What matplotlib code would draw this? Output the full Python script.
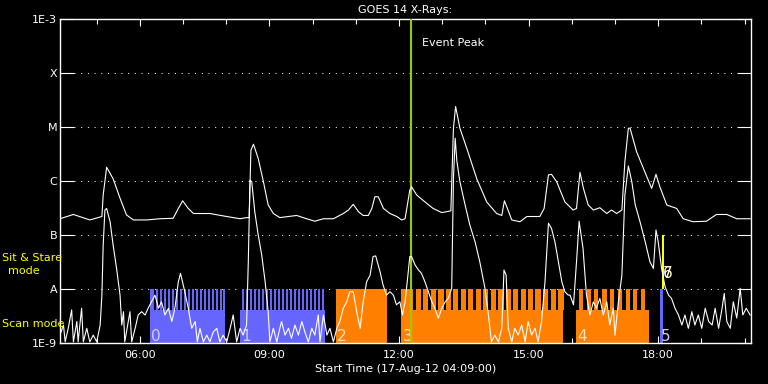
import matplotlib
matplotlib.use('Agg')
import matplotlib.pyplot as plt
from matplotlib.ticker import FixedLocator, NullLocator

# GOES long channel (1-8 A), time in hours of 17-Aug-12, flux in W/m^2
long_t = [4.15, 4.46, 4.84, 5.12, 5.15, 5.23, 5.38, 5.54, 5.69, 5.85,
          6.16, 6.46, 6.77, 6.89, 6.99, 7.12, 7.24, 7.62, 8.01, 8.32,
          8.47, 8.53, 8.57, 8.63, 8.74, 8.86, 8.97, 9.09, 9.24, 9.63,
          9.86, 10.05, 10.25, 10.48, 10.71, 10.83, 10.94, 11.06, 11.17, 11.29,
          11.37, 11.44, 11.52, 11.64, 11.79, 11.95, 12.06, 12.14, 12.18, 12.25,
          12.29, 12.41, 12.60, 12.79, 12.99, 13.20, 13.26, 13.31, 13.41, 13.57,
          13.80, 14.03, 14.26, 14.38, 14.44, 14.51, 14.61, 14.80, 14.96, 15.26,
          15.36, 15.46, 15.53, 15.65, 15.84, 16.03, 16.11, 16.19, 16.27, 16.38,
          16.50, 16.65, 16.81, 16.92, 17.04, 17.16, 17.23, 17.31, 17.35, 17.50,
          17.66, 17.85, 17.95, 18.04, 18.20, 18.43, 18.58, 18.81, 19.12, 19.35,
          19.59, 19.82, 20.13]
long_flux = [2.0e-7, 2.4e-7, 1.9e-7, 2.2e-7, 5.5e-7, 1.8e-6, 1.1e-6, 4.8e-7, 2.35e-7, 1.9e-7,
             1.9e-7, 2.0e-7, 2.04e-7, 3.1e-7, 4.3e-7, 3.1e-7, 2.5e-7, 2.5e-7, 2.2e-7, 2.0e-7,
             2.1e-7, 2.1e-7, 3.7e-6, 4.8e-6, 2.6e-6, 9.7e-7, 3.6e-7, 2.5e-7, 2.1e-7, 2.3e-7,
             2.0e-7, 1.8e-7, 2.0e-7, 2.0e-7, 2.5e-7, 2.9e-7, 3.7e-7, 2.7e-7, 2.3e-7, 2.3e-7,
             3.1e-7, 5.1e-7, 5.1e-7, 3.1e-7, 2.5e-7, 2.2e-7, 1.9e-7, 2.0e-7, 3.1e-7, 6.8e-7,
             7.8e-7, 5.5e-7, 4.1e-7, 3.1e-7, 2.6e-7, 2.8e-7, 9.5e-6, 2.4e-5, 9.5e-6, 4.0e-6,
             1.1e-6, 4.1e-7, 2.5e-7, 2.3e-7, 4.3e-7, 3.1e-7, 1.9e-7, 1.76e-7, 2.2e-7, 2.2e-7,
             3.1e-7, 1.3e-6, 1.33e-6, 9.7e-7, 4.1e-7, 2.9e-7, 3.1e-7, 1.45e-6, 7.3e-7, 3.6e-7,
             2.9e-7, 3.2e-7, 2.5e-7, 2.9e-7, 2.5e-7, 2.9e-7, 2.3e-6, 9.5e-6, 9.5e-6, 3.5e-6,
             1.7e-6, 7.3e-7, 1.33e-6, 7.8e-7, 3.6e-7, 3.1e-7, 2.0e-7, 1.76e-7, 1.8e-7, 2.4e-7,
             2.4e-7, 2.0e-7, 2.0e-7]

# GOES short channel (0.5-4 A)
short_t = [4.15, 4.23, 4.27, 4.34, 4.42, 4.46, 4.54, 4.57, 4.65, 4.69,
           4.77, 4.84, 4.92, 5.00, 5.08, 5.12, 5.15, 5.19, 5.23, 5.31,
           5.38, 5.46, 5.54, 5.58, 5.62, 5.65, 5.73, 5.77, 5.81, 5.89,
           5.96, 6.04, 6.12, 6.19, 6.27, 6.35, 6.43, 6.50, 6.58, 6.66,
           6.74, 6.81, 6.89, 6.94, 7.04, 7.12, 7.20, 7.28, 7.33, 7.39,
           7.47, 7.55, 7.62, 7.70, 7.78, 7.85, 7.93, 8.01, 8.09, 8.16,
           8.24, 8.32, 8.39, 8.47, 8.51, 8.55, 8.59, 8.66, 8.74, 8.82,
           8.90, 8.97, 9.01, 9.09, 9.17, 9.24, 9.28, 9.36, 9.44, 9.51,
           9.59, 9.67, 9.75, 9.82, 9.90, 9.98, 10.05, 10.13, 10.17, 10.25,
           10.33, 10.40, 10.48, 10.56, 10.63, 10.71, 10.79, 10.86, 10.94, 11.02,
           11.10, 11.17, 11.25, 11.33, 11.40, 11.46, 11.56, 11.63, 11.71, 11.79,
           11.87, 11.94, 12.02, 12.08, 12.14, 12.19, 12.25, 12.29, 12.37, 12.45,
           12.52, 12.60, 12.68, 12.76, 12.83, 12.91, 12.99, 13.07, 13.14, 13.22,
           13.26, 13.30, 13.34, 13.41, 13.53, 13.64, 13.76, 13.87, 13.99, 14.07,
           14.14, 14.22, 14.30, 14.38, 14.43, 14.48, 14.53, 14.61, 14.68, 14.76,
           14.84, 14.92, 14.99, 15.07, 15.15, 15.22, 15.30, 15.38, 15.46, 15.53,
           15.61, 15.69, 15.77, 15.84, 15.92, 15.96, 16.04, 16.11, 16.17, 16.26,
           16.34, 16.42, 16.50, 16.57, 16.65, 16.73, 16.81, 16.88, 16.96, 17.00,
           17.08, 17.16, 17.23, 17.31, 17.39, 17.47, 17.58, 17.70, 17.81, 17.89,
           17.95, 18.00, 18.08, 18.16, 18.24, 18.31, 18.39, 18.47, 18.55, 18.62,
           18.70, 18.78, 18.85, 18.93, 19.01, 19.09, 19.17, 19.25, 19.32, 19.40,
           19.48, 19.53, 19.59, 19.67, 19.74, 19.82, 19.90, 19.96, 20.04, 20.13]
short_flux = [1.4e-9, 2.15e-9, 1.05e-9, 1.87e-9, 4.1e-9, 1.05e-9, 2.5e-9, 1.05e-9, 4.4e-9, 1.05e-9,
              1.87e-9, 1.05e-9, 1.4e-9, 1.05e-9, 2.15e-9, 7.7e-9, 6.5e-8, 2.9e-7, 3.1e-7, 1.76e-7,
              6.5e-8, 2.4e-8, 7.7e-9, 2.15e-9, 3.8e-9, 1.05e-9, 2.5e-9, 3.8e-9, 1.05e-9, 1.87e-9,
              3.3e-9, 3.8e-9, 3.3e-9, 4.4e-9, 5.8e-9, 7.7e-9, 4.4e-9, 5.8e-9, 3.3e-9, 4.4e-9,
              2.5e-9, 4.4e-9, 1.36e-8, 1.95e-8, 8.9e-9, 4.4e-9, 1.87e-9, 2.5e-9, 1.05e-9, 1.87e-9,
              1.05e-9, 1.4e-9, 1.05e-9, 1.6e-9, 1.87e-9, 1.05e-9, 1.4e-9, 1.05e-9, 1.87e-9, 3.3e-9,
              1.05e-9, 1.87e-9, 1.4e-9, 2.15e-9, 3.2e-8, 1.04e-6, 9.7e-7, 2.7e-7, 1.0e-7, 4.3e-8,
              1.36e-8, 3.8e-9, 1.05e-9, 1.87e-9, 1.05e-9, 1.87e-9, 2.5e-9, 1.4e-9, 1.87e-9, 1.22e-9,
              2.15e-9, 1.4e-9, 2.5e-9, 1.6e-9, 1.05e-9, 1.87e-9, 1.4e-9, 3.3e-9, 1.05e-9, 3.3e-9,
              1.4e-9, 1.87e-9, 1.05e-9, 1.87e-9, 2.5e-9, 4.4e-9, 5.8e-9, 8.9e-9, 8.9e-9, 3.8e-9,
              1.87e-9, 5.8e-9, 1.36e-8, 1.8e-8, 4.0e-8, 4.1e-8, 2.1e-8, 1.19e-8, 7.7e-9, 8.9e-9,
              7.7e-9, 5.1e-9, 5.8e-9, 3.3e-9, 5.8e-9, 1.36e-8, 4.0e-8, 4.0e-8, 2.8e-8, 2.25e-8,
              1.95e-8, 1.36e-8, 8.9e-9, 5.8e-9, 4.4e-9, 2.9e-9, 4.4e-9, 5.8e-9, 6.7e-9, 1.03e-8,
              1.1e-6, 6.2e-6, 2.3e-6, 9.7e-7, 3.6e-7, 1.53e-7, 7.5e-8, 3.2e-8, 1.03e-8, 3.3e-9,
              1.05e-9, 1.4e-9, 1.05e-9, 1.87e-9, 2.25e-8, 1.8e-8, 1.87e-9, 1.05e-9, 1.87e-9, 1.4e-9,
              2.15e-9, 1.05e-9, 2.5e-9, 1.4e-9, 1.87e-9, 1.05e-9, 2.5e-9, 1.36e-8, 1.65e-7, 1.33e-7,
              7.5e-8, 3.2e-8, 1.36e-8, 8.9e-9, 7.7e-9, 7.7e-9, 5.1e-9, 3.2e-8, 1.8e-7, 5.7e-8,
              7.7e-9, 3.3e-9, 5.8e-9, 4.4e-9, 6.7e-9, 3.3e-9, 5.8e-9, 2.15e-9, 4.4e-9, 1.4e-9,
              5.8e-9, 1.8e-8, 5.5e-7, 1.9e-6, 9.7e-7, 3.6e-7, 1.76e-7, 7.5e-8, 3.2e-8, 2.4e-8,
              1.24e-7, 7.5e-8, 2.4e-8, 1.1e-8, 7.7e-9, 6.7e-9, 4.4e-9, 3.3e-9, 2.15e-9, 3.3e-9,
              1.87e-9, 3.8e-9, 2.15e-9, 3.3e-9, 1.87e-9, 4.4e-9, 2.5e-9, 2.15e-9, 4.4e-9, 1.87e-9,
              4.4e-9, 8.3e-9, 2.5e-9, 1.87e-9, 5.8e-9, 2.9e-9, 1.03e-8, 3.3e-9, 4.4e-9, 3.3e-9]

# observing blocks (rasters) with their exposure start times
block_start = [6.23, 8.32, 10.54, 12.05, 16.10, 18.04]
block_end = [7.97, 10.29, 11.72, 15.79, 17.78, 18.11]
block_mode = ['fast', 'fast', 'slow', 'slow', 'slow', 'fast']
exp_len = [0.05, 0.05, 1.18, 0.12, 0.097, 0.07]
exp0 = [6.23, 6.28, 6.37, 6.47, 6.56, 6.65, 6.74, 6.84, 6.93, 7.02,
        7.11, 7.21, 7.30, 7.39, 7.48, 7.58, 7.67, 7.76, 7.85, 7.92]
exp1 = [8.36, 8.45, 8.54, 8.64, 8.73, 8.82, 8.91, 9.01, 9.10, 9.19,
        9.28, 9.38, 9.47, 9.56, 9.65, 9.75, 9.84, 9.93, 10.02, 10.12, 10.21]
exp2 = [10.54]
exp3 = [12.05, 12.13, 12.21, 12.39, 12.56, 12.73, 12.91, 13.08, 13.25, 13.43,
        13.60, 13.78, 13.95, 14.12, 14.30, 14.47, 14.64, 14.82, 14.99, 15.16,
        15.34, 15.51, 15.69]
exp4 = [16.17, 16.35, 16.52, 16.71, 16.88, 17.06, 17.25, 17.42, 17.60]
exp5 = [18.04]
stare_start = 18.08
stare_end = 18.13
stare_labels = ['6', '7']

event_peak = 12.28

ytick_vals = [1e-9, 1e-8, 1e-7, 1e-6, 1e-5, 1e-4, 1e-3]
ytick_labels = ['1E-9', 'A', 'B', 'C', 'M', 'X', '1E-3']
xtick_vals = [6, 9, 12, 15, 18]
xtick_labels = ['06:00', '09:00', '12:00', '15:00', '18:00']

mode_color = {'fast': '#6666ff', 'slow': '#ff8000'}
num_color = {'fast': '#d0d0ff', 'slow': '#ffe0c0'}

fig = plt.figure(figsize=(7.68, 3.84), dpi=100, facecolor='black')
ax = fig.add_axes([60 / 768, 41 / 384, 691 / 768, 324 / 384])
ax.set_facecolor('black')
ax.set_yscale('log')
ax.set_ylim(1e-9, 1e-3)
ax.set_xlim(4.15, 20.15)

for s in ax.spines.values():
    s.set_color('white')
    s.set_linewidth(1)

ax.yaxis.set_major_locator(FixedLocator(ytick_vals))
ax.yaxis.set_minor_locator(NullLocator())
ax.set_yticklabels(ytick_labels)
ax.xaxis.set_major_locator(FixedLocator(xtick_vals))
ax.xaxis.set_minor_locator(FixedLocator(list(range(5, 21))))
ax.set_xticklabels(xtick_labels)
ax.tick_params(axis='y', which='major', direction='in', length=10, width=0.8,
               colors='white', left=True, right=True, labelsize=8, pad=2)
ax.tick_params(axis='x', which='major', direction='in', length=5, width=0.8,
               colors='white', top=True, bottom=True, labelsize=8, pad=5)
ax.tick_params(axis='x', which='minor', direction='in', length=3.6, width=0.8,
               colors='white', top=True, bottom=True)

# dotted class levels
for v in ytick_vals[1:-1]:
    ax.axhline(v, xmin=14 / 691, xmax=1 - 14 / 691, color='white', lw=0.72,
               ls=(0, (1, 5.7)), zorder=1)

# raster blocks: solid base plus comb of exposures up to the A level
comb_base = 4.1e-9
exposures = [exp0, exp1, exp2, exp3, exp4, exp5]
for i in range(len(block_start)):
    c = mode_color[block_mode[i]]
    ax.bar(block_start[i], comb_base - 1e-9, bottom=1e-9,
           width=block_end[i] - block_start[i], align='edge', color=c, lw=0, zorder=2)
    ax.bar(exposures[i], [1e-8 - comb_base] * len(exposures[i]), bottom=comb_base,
           width=exp_len[i], align='edge', color=c, lw=0, zorder=2)
    ax.annotate(str(i), xy=(block_start[i], 1e-9), xytext=(1, 1.5),
                textcoords='offset points', color=num_color[block_mode[i]],
                fontsize=11, ha='left', va='baseline', zorder=3)

ax.bar(stare_start, 1e-7 - 1e-8, bottom=1e-8, width=stare_end - stare_start,
       align='edge', color='#ffff00', lw=0, zorder=2)
for lab in stare_labels:
    ax.annotate(lab, xy=(stare_start, 1e-8), xytext=(1, 8),
                textcoords='offset points', color='#ffffd0',
                fontsize=11, ha='left', va='baseline', zorder=3)

ax.axvline(event_peak, color='#99cc00', lw=1.5, zorder=3)
ax.annotate('Event Peak', xy=(event_peak, 1), xycoords=('data', 'axes fraction'),
            xytext=(8, -13.5), textcoords='offset points', color='white',
            fontsize=8, ha='left', va='top')

ax.plot(long_t, long_flux, color='white', lw=0.8, zorder=4)
ax.plot(short_t, short_flux, color='white', lw=0.8, zorder=4)

ax.set_title('GOES 14 X-Rays:', color='white', fontsize=8, pad=4)
ax.set_xlabel('Start Time (17-Aug-12 04:09:00)', color='white', fontsize=8, labelpad=3)

fig.text(2 / 768, 1 - 258 / 384, 'Sit & Stare', color='#ffff00', fontsize=8,
         ha='left', va='center')
fig.text(24 / 768, 1 - 271 / 384, 'mode', color='#ffff00', fontsize=8,
         ha='center', va='center')
fig.text(2 / 768, 1 - 324 / 384, 'Scan mode', color='#ffff00', fontsize=8,
         ha='left', va='center')

fig.savefig('out.png', dpi=100, facecolor='black')
